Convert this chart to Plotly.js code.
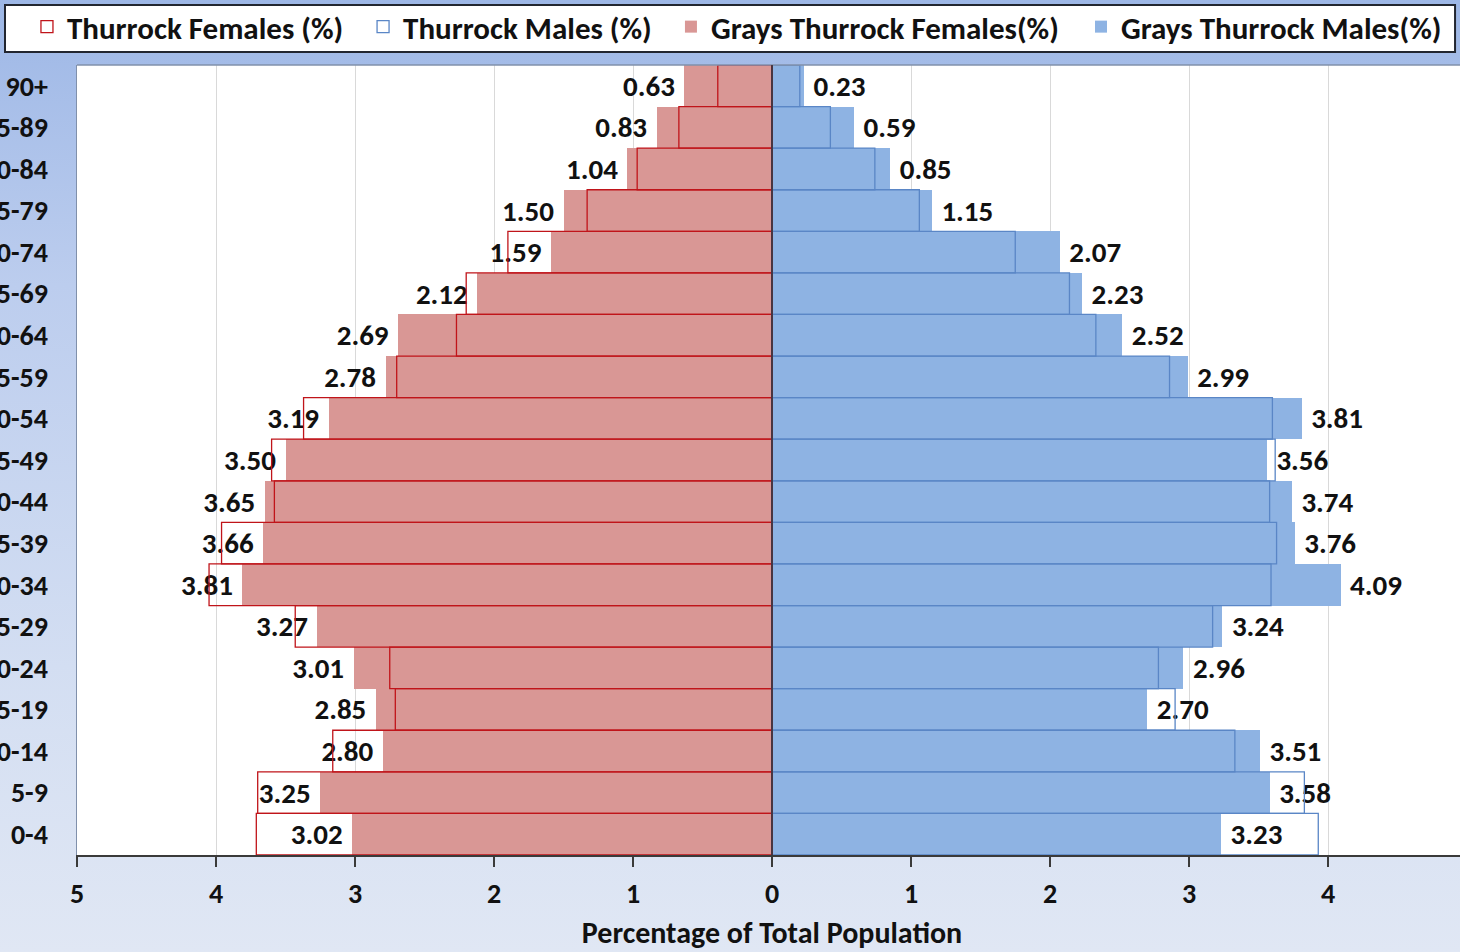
<!DOCTYPE html>
<html>
<head>
<meta charset="utf-8">
<script src="https://cdn.plot.ly/plotly-3.0.1.min.js"></script>
<style>
  html, body { margin: 0; padding: 0; width: 1460px; height: 952px; overflow: hidden;
    background: linear-gradient(to bottom, #9db7e6 0%, #bccdee 30%, #d3def2 70%, #e0e7f4 100%); }
  #chart { position: absolute; left: -40px; top: -14px; width: 1520px; height: 966px; }
</style>
</head>
<body>
<div id="chart"></div>
<script>
// Age groups, bottom to top
const ageGroups = ["0-4","5-9","10-14","15-19","20-24","25-29","30-34","35-39","40-44","45-49",
                   "50-54","55-59","60-64","65-69","70-74","75-79","80-84","85-89","90+"];

// Grays Thurrock (%), bottom to top
const graysFemales = [3.02, 3.25, 2.80, 2.85, 3.01, 3.27, 3.81, 3.66, 3.65, 3.50,
                      3.19, 2.78, 2.69, 2.12, 1.59, 1.50, 1.04, 0.83, 0.63];
const graysMales   = [3.23, 3.58, 3.51, 2.70, 2.96, 3.24, 4.09, 3.76, 3.74, 3.56,
                      3.81, 2.99, 2.52, 2.23, 2.07, 1.15, 0.85, 0.59, 0.23];

// Thurrock (%), bottom to top (estimated from the outlines)
const thurrockFemales = [3.71, 3.70, 3.16, 2.71, 2.75, 3.43, 4.05, 3.96, 3.58, 3.60,
                         3.37, 2.70, 2.27, 2.20, 1.90, 1.33, 0.97, 0.67, 0.39];
const thurrockMales   = [3.93, 3.83, 3.33, 2.90, 2.78, 3.17, 3.59, 3.63, 3.58, 3.62,
                         3.60, 2.86, 2.33, 2.14, 1.75, 1.06, 0.74, 0.42, 0.20];

// Axis ticks
const xTickVals = [-5,-4,-3,-2,-1,0,1,2,3,4];
const xTickText = ["5","4","3","2","1","0","1","2","3","4"];

const FONT = "Carlito, Calibri, 'Liberation Sans Narrow', 'DejaVu Sans Condensed', 'Open Sans', sans-serif";
const NB = "\u00A0";

const labelFont = { family: FONT, size: 29, color: "#111", weight: "bold" };
const legendFont = { family: FONT, size: 31, color: "#111", weight: "bold" };

const traces = [
  {
    type: "bar", orientation: "h", name: "Grays Thurrock Females(%)", legend: "legend3",
    y: ageGroups, x: graysFemales.map(v => -v),
    text: graysFemales.map(v => v.toFixed(2) + NB),
    textposition: "outside", constraintext: "none", cliponaxis: false,
    textfont: labelFont,
    marker: { color: "#d99795", line: { width: 0 } },
    hoverinfo: "skip"
  },
  {
    type: "bar", orientation: "h", name: "Grays Thurrock Males(%)", legend: "legend4",
    y: ageGroups, x: graysMales,
    text: graysMales.map(v => NB + v.toFixed(2)),
    textposition: "outside", constraintext: "none", cliponaxis: false,
    textfont: labelFont,
    marker: { color: "#8eb3e3", line: { width: 0 } },
    hoverinfo: "skip"
  },
  {
    type: "bar", orientation: "h", name: "Thurrock Females (%)", legend: "legend",
    y: ageGroups, x: thurrockFemales.map(v => -v),
    marker: { color: "rgba(0,0,0,0)", line: { color: "#c0141a", width: 1.3 } },
    hoverinfo: "skip"
  },
  {
    type: "bar", orientation: "h", name: "Thurrock Males (%)", legend: "legend2",
    y: ageGroups, x: thurrockMales,
    marker: { color: "rgba(0,0,0,0)", line: { color: "#5a86c6", width: 1.3 } },
    hoverinfo: "skip"
  }
];

const LEG_Y = 1.0823;
function legendAt(x) {
  return {
    orientation: "h", x: x, xanchor: "left", y: LEG_Y, yanchor: "top",
    bgcolor: "rgba(0,0,0,0)", borderwidth: 0, font: legendFont,
    itemclick: false, itemdoubleclick: false
  };
}

const layout = {
  width: 1520, height: 966,
  margin: { l: 117, r: 13, t: 79, b: 97 },
  paper_bgcolor: "rgba(0,0,0,0)",
  plot_bgcolor: "#ffffff",
  barmode: "overlay", bargap: 0,
  font: { family: FONT, color: "#111" },
  showlegend: true,
  legend: legendAt(-0.036),
  legend2: legendAt(0.2058),
  legend3: legendAt(0.4273),
  legend4: legendAt(0.7223),
  xaxis: {
    range: [-5, 5], tickvals: xTickVals, ticktext: xTickText,
    showgrid: true, gridcolor: "#d9d9d9", gridwidth: 1,
    zeroline: false,
    showline: true, linecolor: "#3a3a3a", linewidth: 2,
    ticks: "outside", ticklen: 10, tickcolor: "#3a3a3a", tickwidth: 2,
    ticklabelstandoff: 2,
    tickfont: { family: FONT, size: 28, color: "#111", weight: "bold" },
    title: { text: "Percentage of Total Population", standoff: 12,
             font: { family: FONT, size: 30, color: "#111", weight: "bold" } },
    fixedrange: true
  },
  yaxis: {
    type: "category", categoryorder: "array", categoryarray: ageGroups,
    showgrid: false, zeroline: false,
    showline: true, linecolor: "#8090ab", linewidth: 1.5,
    ticks: "", ticklabelstandoff: 22,
    tickfont: { family: FONT, size: 28, color: "#111", weight: "bold" },
    fixedrange: true
  },
  shapes: [
    { type: "rect", xref: "paper", yref: "paper", layer: "below",
      x0: -0.0518, x1: 0.9914, y0: 1.0165, y1: 1.0759,
      fillcolor: "#ffffff", line: { color: "#222630", width: 2 } },
    { type: "line", xref: "paper", yref: "paper", x0: 0, x1: 1, y0: 1, y1: 1,
      line: { color: "#8090ab", width: 1.5 } },
    { type: "line", xref: "x", yref: "paper", x0: 0, x1: 0, y0: 0, y1: 1, layer: "above",
      line: { color: "#3a2222", width: 1.5 } }
  ]
};

Plotly.newPlot("chart", traces, layout, { displayModeBar: false, staticPlot: true });
</script>
</body>
</html>
